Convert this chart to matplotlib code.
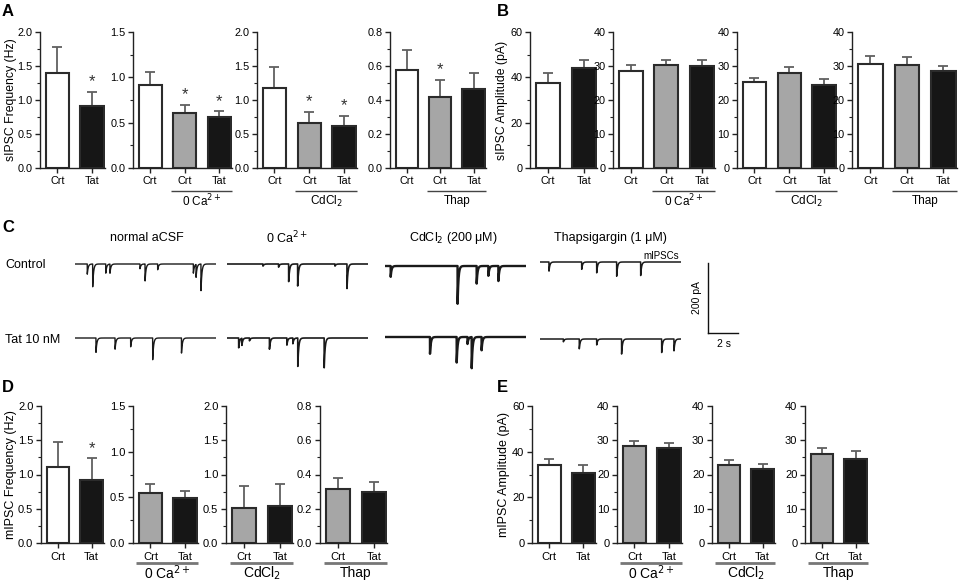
import numpy as np
import matplotlib
matplotlib.use("Agg")
import matplotlib.pyplot as plt
from matplotlib.transforms import blended_transform_factory

plt.rcParams['font.family'] = ['Liberation Sans', 'DejaVu Sans']

# ---------------- data ----------------
# sIPSC frequency (Hz) - panel A
A_normal_mean = [1.40, 0.905]; A_normal_top = [1.785, 1.125]
A_0Ca_mean = [0.917, 0.612, 0.557]; A_0Ca_top = [1.063, 0.70, 0.63]
A_Cd_mean = [1.183, 0.665, 0.611]; A_Cd_top = [1.49, 0.83, 0.77]
A_Thap_mean = [0.578, 0.415, 0.464]; A_Thap_top = [0.695, 0.52, 0.56]
# sIPSC amplitude (pA) - panel B
B_normal_mean = [37.4, 44.0]; B_normal_top = [41.7, 47.8]
B_0Ca_mean = [28.5, 30.3, 30.0]; B_0Ca_top = [30.2, 31.8, 31.8]
B_Cd_mean = [25.4, 27.8, 24.3]; B_Cd_top = [26.6, 29.8, 26.2]
B_Thap_mean = [30.6, 30.3, 28.4]; B_Thap_top = [32.8, 32.5, 30.0]
# mIPSC frequency (Hz) - panel D
D_normal_mean = [1.11, 0.925]; D_normal_top = [1.474, 1.24]
D_0Ca_mean = [0.547, 0.496]; D_0Ca_top = [0.642, 0.573]
D_Cd_mean = [0.516, 0.545]; D_Cd_top = [0.827, 0.861]
D_Thap_mean = [0.317, 0.298]; D_Thap_top = [0.38, 0.356]
# mIPSC amplitude (pA) - panel E
E_normal_mean = [34.3, 30.8]; E_normal_top = [36.8, 34.2]
E_0Ca_mean = [28.3, 27.6]; E_0Ca_top = [29.9, 29.1]
E_Cd_mean = [22.9, 21.7]; E_Cd_top = [24.2, 23.2]
E_Thap_mean = [25.9, 24.5]; E_Thap_top = [27.6, 26.9]

labels_2 = ['Crt', 'Tat']
labels_3 = ['Crt', 'Crt', 'Tat']
group_names = ['0 Ca$^{2+}$', 'CdCl$_2$', 'Thap']

A_stars = [[False, True], [False, True, True], [False, True, True], [False, True, False]]
D_stars = [[False, True], [False, False], [False, False], [False, False]]

# traces (event time s, amplitude pA)
trace_duration = 9.4
tau_decay = 0.06
ev_ctrl_acsf = [(0.82, 29), (1.18, 65), (2.05, 27), (2.33, 27), (4.33, 14), (4.67, 50),
                (5.51, 17), (7.89, 27), (8.07, 38), (8.40, 76)]
ev_tat_acsf = [(1.40, 41), (2.67, 33), (3.71, 26), (5.18, 62), (7.10, 43)]
ev_ctrl_0ca = [(2.40, 6), (3.44, 9), (4.11, 52), (4.71, 65), (7.20, 6), (8.00, 70)]
ev_tat_0ca = [(0.78, 28), (0.99, 21), (1.50, 8), (2.83, 33), (3.99, 21), (4.39, 17),
              (4.72, 81), (6.48, 85)]
ev_ctrl_cd = [(0.38, 31), (4.84, 108), (6.11, 52), (6.89, 29), (7.56, 43)]
ev_tat_cd = [(3.0, 48), (4.78, 73), (5.50, 20), (5.78, 89), (6.44, 38)]
ev_ctrl_thap = [(0.60, 26), (2.78, 21), (3.78, 31), (5.11, 42), (6.71, 40)]
ev_tat_thap = [(1.56, 8), (2.62, 28), (3.78, 17), (5.44, 43), (8.11, 40), (8.93, 35)]
scale_time = 2      # s
scale_current = 200  # pA

# ---------------- figure ----------------
W, H = 964, 585
fig = plt.figure(figsize=(W / 100, H / 100), dpi=100)

def ax_px(L, R, top, bottom):
    return fig.add_axes([L / W, 1 - bottom / H, (R - L) / W, (bottom - top) / H])

WHITE, GRAY, BLACK = '#ffffff', '#a6a6a6', '#161616'

def bar_panel(L, R, top, bottom, means, tops, colors, labels, ylim, yticks, fmt,
              stars=None, group=None, group_span=None, ylabel=None, label_right=None, big=False):
    ax = ax_px(L, R, top, bottom)
    n = len(means)
    x = np.arange(n)
    err = np.array(tops) - np.array(means)
    ax.errorbar(x, means, yerr=[np.zeros(n), err], fmt='none', ecolor='#606060',
                elinewidth=1.3, capsize=3.8, capthick=1.3, zorder=1)
    ax.bar(x, means, width=0.67, color=colors, edgecolor='#2b2b2b', linewidth=1.5, zorder=2)
    ax.set_xlim(-0.5, n - 1 + 0.37)
    ax.set_ylim(*ylim)
    ax.set_yticks(yticks)
    ax.set_yticklabels([fmt % v for v in yticks])
    minors = [(yticks[i] + yticks[i + 1]) / 2 for i in range(len(yticks) - 1)]
    ax.set_yticks(minors, minor=True)
    ax.set_xticks(x)
    ax.set_xticklabels(labels)
    for s in ['top', 'right']:
        ax.spines[s].set_visible(False)
    for s in ['left', 'bottom']:
        ax.spines[s].set_linewidth(1.0)
        ax.spines[s].set_color('#222222')
    fs = 8 if big else 7.8
    ax.tick_params(axis='both', which='major', length=3.5, width=1.0, labelsize=fs,
                   color='#222222', pad=2)
    ax.tick_params(axis='y', which='minor', length=2, width=0.8, color='#222222')
    ax.tick_params(axis='x', pad=3 if big else 2)
    if stars is not None:
        for i, s in enumerate(stars):
            if s:
                ax.annotate('*', (x[i], tops[i]), xytext=(0, 7), textcoords='offset points',
                            ha='center', va='center', fontsize=12, color='#333333')
    if group is not None:
        tr = blended_transform_factory(ax.transData, ax.transAxes)
        i0, i1 = group_span
        hpx = bottom - top
        if big:
            yl, yt, lc, lw, gfs = -20 / hpx, -30 / hpx, '#777777', 2.0, 10
        else:
            yl, yt, lc, lw, gfs = -23 / hpx, -33 / hpx, '#444444', 1.0, 8.5
        ax.plot([x[i0] - 0.4, x[i1] + 0.36], [yl, yl], color=lc, lw=lw,
                transform=tr, clip_on=False, solid_capstyle='butt')
        ax.text((x[i0] + x[i1]) / 2, yt, group, transform=tr, ha='center', va='center',
                fontsize=gfs)
    if ylabel is not None:
        ax.set_ylabel(ylabel, fontsize=9 if big else 8.8)
        ax.yaxis.set_label_coords(-(L - label_right) / (R - L), 0.5)
    return ax

f20 = [0, 0.5, 1.0, 1.5, 2.0]
f15 = [0, 0.5, 1.0, 1.5]
f08 = [0, 0.2, 0.4, 0.6, 0.8]
a60 = [0, 20, 40, 60]
a40 = [0, 10, 20, 30, 40]

# Panel A
tA, bA = 32, 168
bar_panel(40, 105, tA, bA, A_normal_mean, A_normal_top, [WHITE, BLACK], labels_2, (0, 2.0), f20, '%.1f',
          stars=A_stars[0], ylabel='sIPSC Frequency (Hz)', label_right=17)
bar_panel(133, 232, tA, bA, A_0Ca_mean, A_0Ca_top, [WHITE, GRAY, BLACK], labels_3, (0, 1.5), f15, '%.1f',
          stars=A_stars[1], group=group_names[0], group_span=(1, 2))
bar_panel(257, 357, tA, bA, A_Cd_mean, A_Cd_top, [WHITE, GRAY, BLACK], labels_3, (0, 2.0), f20, '%.1f',
          stars=A_stars[2], group=group_names[1], group_span=(1, 2))
bar_panel(390, 486, tA, bA, A_Thap_mean, A_Thap_top, [WHITE, GRAY, BLACK], labels_3, (0, 0.8), f08, '%.1f',
          stars=A_stars[3], group=group_names[2], group_span=(1, 2))

# Panel B
bar_panel(530, 597, tA, bA, B_normal_mean, B_normal_top, [WHITE, BLACK], labels_2, (0, 60), a60, '%d',
          ylabel='sIPSC Amplitude (pA)', label_right=508)
bar_panel(613, 715, tA, bA, B_0Ca_mean, B_0Ca_top, [WHITE, GRAY, BLACK], labels_3, (0, 40), a40, '%d',
          group=group_names[0], group_span=(1, 2))
bar_panel(737, 837, tA, bA, B_Cd_mean, B_Cd_top, [WHITE, GRAY, BLACK], labels_3, (0, 40), a40, '%d',
          group=group_names[1], group_span=(1, 2))
bar_panel(852, 957, tA, bA, B_Thap_mean, B_Thap_top, [WHITE, GRAY, BLACK], labels_3, (0, 40), a40, '%d',
          group=group_names[2], group_span=(1, 2))

# Panel D
tD, bD = 406, 543
bar_panel(41, 104, tD, bD, D_normal_mean, D_normal_top, [WHITE, BLACK], labels_2, (0, 2.0), f20, '%.1f',
          stars=D_stars[0], ylabel='mIPSC Frequency (Hz)', label_right=17, big=True)
bar_panel(133, 198, tD, bD, D_0Ca_mean, D_0Ca_top, [GRAY, BLACK], labels_2, (0, 1.5), f15, '%.1f',
          group=group_names[0], group_span=(0, 1), big=True)
bar_panel(226, 293, tD, bD, D_Cd_mean, D_Cd_top, [GRAY, BLACK], labels_2, (0, 2.0), f20, '%.1f',
          group=group_names[1], group_span=(0, 1), big=True)
bar_panel(320, 387, tD, bD, D_Thap_mean, D_Thap_top, [GRAY, BLACK], labels_2, (0, 0.8), f08, '%.1f',
          group=group_names[2], group_span=(0, 1), big=True)

# Panel E
bar_panel(532, 596, tD, bD, E_normal_mean, E_normal_top, [WHITE, BLACK], labels_2, (0, 60), a60, '%d',
          ylabel='mIPSC Amplitude (pA)', label_right=510, big=True)
bar_panel(617, 682, tD, bD, E_0Ca_mean, E_0Ca_top, [GRAY, BLACK], labels_2, (0, 40), a40, '%d',
          group=group_names[0], group_span=(0, 1), big=True)
bar_panel(712, 775, tD, bD, E_Cd_mean, E_Cd_top, [GRAY, BLACK], labels_2, (0, 40), a40, '%d',
          group=group_names[1], group_span=(0, 1), big=True)
bar_panel(805, 868, tD, bD, E_Thap_mean, E_Thap_top, [GRAY, BLACK], labels_2, (0, 40), a40, '%d',
          group=group_names[2], group_span=(0, 1), big=True)

# ---------------- Panel C traces ----------------
px_per_s = 15.0
px_per_pA = 70.0 / 200.0
ylo, yhi = -130, 20

def make_trace(events):
    t = np.arange(0, trace_duration, 0.004)
    y = np.zeros_like(t)
    for t0, a in events:
        m = t >= t0
        y[m] -= a * np.exp(-(t[m] - t0) / tau_decay)
    return t, y

def trace_ax(left, baseline, events, lw=1.0):
    L = left
    R = left + trace_duration * px_per_s
    top = baseline - yhi * px_per_pA
    bottom = baseline - ylo * px_per_pA
    ax = ax_px(L, R, top, bottom)
    t, y = make_trace(events)
    ax.plot(t, y, color='#1a1a1a', lw=lw)
    ax.set_xlim(0, trace_duration)
    ax.set_ylim(ylo, yhi)
    ax.axis('off')
    return ax

cols = [75, 227, 385, 540]
row_ctrl, row_tat = 264, 338
trace_ax(cols[0], row_ctrl, ev_ctrl_acsf)
trace_ax(cols[0], row_tat, ev_tat_acsf)
trace_ax(cols[1], row_ctrl, ev_ctrl_0ca, lw=1.2)
trace_ax(cols[1], row_tat, ev_tat_0ca, lw=1.2)
trace_ax(cols[2], row_ctrl + 2, ev_ctrl_cd, lw=1.7)
trace_ax(cols[2], row_tat - 1, ev_tat_cd, lw=1.7)
trace_ax(cols[3], row_ctrl - 2, ev_ctrl_thap, lw=1.1)
trace_ax(cols[3], row_tat + 1, ev_tat_thap, lw=1.1)

# scale bar
sb = ax_px(708, 708 + scale_time * px_per_s, 333 - scale_current * px_per_pA, 333)
sb.plot([0, 0], [0, scale_current], color='#111111', lw=1.0, clip_on=False)
sb.plot([0, scale_time], [0, 0], color='#111111', lw=1.0, clip_on=False)
sb.set_xlim(0, scale_time)
sb.set_ylim(0, scale_current)
sb.axis('off')

def ftext(x, y, s, **kw):
    fig.text(x / W, 1 - y / H, s, **kw)

ftext(697, 298, '%d pA' % scale_current, rotation=90, ha='center', va='center', fontsize=7.5)
ftext(724, 344, '%d s' % scale_time, ha='center', va='center', fontsize=7.5)
ftext(661, 256, 'mIPSCs', ha='center', va='center', fontsize=7)

ftext(147, 238, 'normal aCSF', ha='center', va='center', fontsize=9)
ftext(287, 238, '0 Ca$^{2+}$', ha='center', va='center', fontsize=9)
ftext(453, 238, 'CdCl$_2$ (200 μM)', ha='center', va='center', fontsize=9)
ftext(610, 238, 'Thapsigargin (1 μM)', ha='center', va='center', fontsize=9)
ftext(5, 265, 'Control', ha='left', va='center', fontsize=9)
ftext(5, 340, 'Tat 10 nM', ha='left', va='center', fontsize=9)

# panel letters
for lab, x, y in [('A', 2, 12), ('B', 497, 12), ('C', 2, 227), ('D', 2, 388), ('E', 497, 388)]:
    ftext(x, y, lab, ha='left', va='center', fontsize=12, fontweight='bold')

fig.savefig('out.png', dpi=100)
